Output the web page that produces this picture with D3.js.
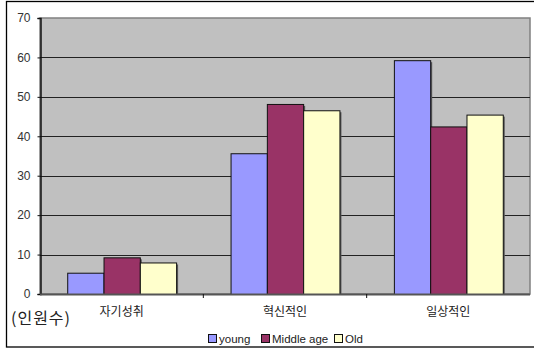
<!DOCTYPE html>
<html><head><meta charset="utf-8">
<script src="https://cdn.jsdelivr.net/npm/d3@7"></script>
<style>body{margin:0;background:#fff}svg{display:block}</style>
</head><body><svg id="c" width="534" height="349"></svg>
<script>
const categories = ["자기성취", "혁신적인", "일상적인"];
const seriesNames = ["young", "Middle age", "Old"];
const young = [5.4, 35.7, 59.3];
const middle = [9.3, 48.2, 42.5];
const old = [8.0, 46.6, 45.5];
const yTicks = [0, 10, 20, 30, 40, 50, 60, 70];
const colors = ["#9999ff", "#993366", "#ffffcc"];
const series = [young, middle, old];

const svg = d3.select("#c");
const L = 40, R = 530, T = 18, B = 294;
const x = d3.scaleBand().domain(categories).range([L, R]).paddingInner(0).paddingOuter(0);
const x1 = d3.scaleBand().domain(seriesNames).range([0, x.bandwidth()]).paddingOuter(0.75).paddingInner(0);
const y = d3.scaleLinear().domain([0, 70]).range([B, T]);

// outer border
svg.append("rect").attr("x", 6.5).attr("y", 1.5).attr("width", 530).attr("height", 345.5)
  .attr("fill", "none").attr("stroke", "#000").attr("stroke-width", 1.3);

// plot area
svg.append("rect").attr("x", L).attr("y", T).attr("width", R - L).attr("height", B - T)
  .attr("fill", "#c0c0c0").attr("stroke", "#808080").attr("stroke-width", 1.5);

// gridlines
svg.append("g").selectAll("line").data(yTicks.filter(d => d > 0 && d < 70)).join("line")
  .attr("x1", L).attr("x2", R).attr("y1", d => Math.round(y(d)) + 0.5).attr("y2", d => Math.round(y(d)) + 0.5)
  .attr("stroke", "#222").attr("stroke-width", 1);

// bars with shadow
const g = svg.append("g");
categories.forEach((c, i) => {
  series.forEach((s, j) => {
    const bx = x(c) + x1(seriesNames[j]);
    const by = y(s[i]);
    g.append("rect").attr("x", bx + 2).attr("y", by + 2).attr("width", x1.bandwidth())
      .attr("height", B - by - 2).attr("fill", "#5a5a5a");
  });
  series.forEach((s, j) => {
    const bx = x(c) + x1(seriesNames[j]);
    const by = y(s[i]);
    g.append("rect").attr("x", bx + 0.5).attr("y", by + 0.5).attr("width", x1.bandwidth())
      .attr("height", B - by).attr("fill", colors[j]).attr("stroke", "#111").attr("stroke-width", 1);
  });
});

// y axis
const yAxis = d3.axisLeft(y).tickValues(yTicks).tickSize(3).tickPadding(7).tickFormat(d3.format("d"));
const ya = svg.append("g").attr("transform", `translate(${L + 0.5},0)`).call(yAxis);
ya.select(".domain").attr("stroke", "#111").attr("stroke-width", 1.5);
ya.selectAll(".tick line").attr("stroke", "#111");
ya.selectAll("text").attr("font-family", "Arial, 'Liberation Sans', sans-serif").attr("font-size", 12).attr("fill", "#333");

// x axis
svg.append("line").attr("x1", L).attr("x2", R).attr("y1", B + 0.5).attr("y2", B + 0.5)
  .attr("stroke", "#555").attr("stroke-width", 2);
const boundaries = categories.map(c => x(c)).concat([R]);
svg.append("g").selectAll("line").data(boundaries.slice(1, 3)).join("line")
  .attr("x1", d => d).attr("x2", d => d).attr("y1", B).attr("y2", B + 4).attr("stroke", "#111");
svg.append("g").selectAll("text").data(categories).join("text")
  .attr("x", d => x(d) + x.bandwidth() / 2).attr("y", 316).attr("text-anchor", "middle")
  .attr("font-family", "'Noto Sans CJK KR', sans-serif").attr("font-size", 12).attr("fill", "#222")
  .text(d => d);

// unit label
svg.append("text").attr("x", 11).attr("y", 324).attr("font-family", "'Noto Sans CJK KR', sans-serif")
  .attr("font-size", 16).attr("letter-spacing", 1).attr("fill", "#222").text("(인원수)");

// legend
const legX = [208, 261, 334];
const lg = svg.append("g");
seriesNames.forEach((n, j) => {
  lg.append("rect").attr("x", legX[j] + 0.5).attr("y", 334.5).attr("width", 8).attr("height", 8)
    .attr("fill", colors[j]).attr("stroke", "#111");
  lg.append("text").attr("x", legX[j] + 11).attr("y", 343).attr("font-family", "Arial, 'Liberation Sans', sans-serif")
    .attr("font-size", 11.5).attr("fill", "#222").text(n);
});
</script></body></html>
